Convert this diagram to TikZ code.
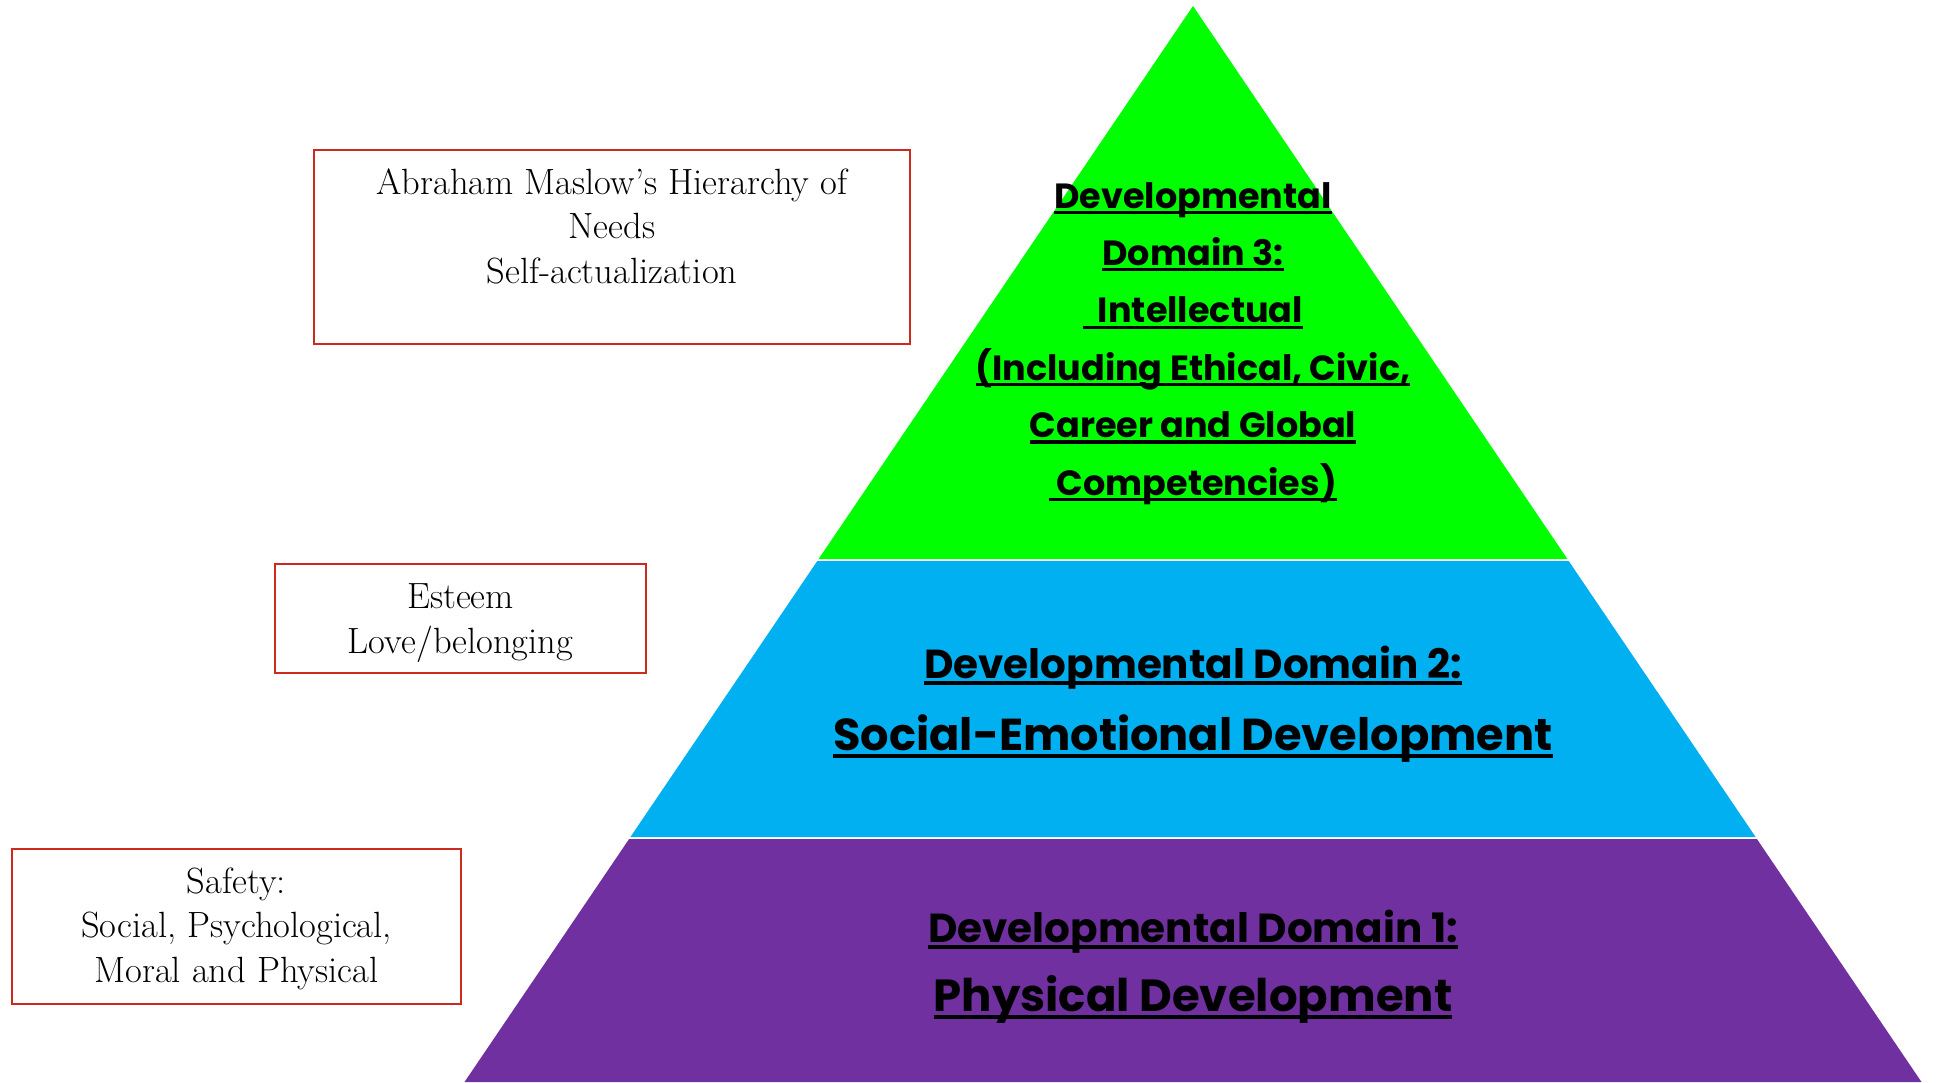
\documentclass[tikz,border=0pt]{standalone}
\usepackage{fontspec}
\newfontfamily\gothic{Poppins}[BoldFont={* Bold}]
\newsavebox\ulbox
\newcommand\ulx[1]{\sbox\ulbox{#1}\rlap{\rule[-0.17em]{\wd\ulbox}{0.09em}}\usebox\ulbox}
\definecolor{pgreen}{HTML}{00FF00}
\definecolor{pblue}{HTML}{00B0F0}
\definecolor{ppurple}{HTML}{7030A0}
\definecolor{boxred}{HTML}{CC2A1E}
\tikzset{
  mbox/.style={draw=boxred, line width=2pt, inner sep=0pt},
  mtext/.style={align=center, anchor=base, inner sep=0pt, font=\fontsize{36.5}{44.5}\selectfont},
  dtext/.style={align=center, anchor=base, inner sep=0pt, text=black},
}
\begin{document}
\begin{tikzpicture}[x=1pt,y=-1pt]
\useasboundingbox (0,0) rectangle (1939,1082);
% pyramid bands
\fill[pgreen] (1193,6) -- (1567.4,559) -- (818.6,559) -- cycle;
\fill[pblue] (817.3,561) -- (1568.7,561) -- (1755.6,837) -- (630.4,837) -- cycle;
\fill[ppurple] (629.1,839) -- (1756.9,839) -- (1921.5,1082) -- (464.5,1082) -- cycle;
% domain texts (base anchor = baseline of last line)
\node[dtext, font=\gothic\bfseries\fontsize{35}{57.4}\selectfont] (d3) at (1193,495)
  {\ulx{Developmental}\\ \ulx{Domain 3:}\\ \ulx{\ \ Intellectual}\\ \ulx{(Including Ethical, Civic,}\\ \ulx{Career and Global}\\ \ulx{\ Competencies)}};
\node[dtext, font=\gothic\bfseries\fontsize{40.5}{50}\selectfont] (d2a) at (1193,678) {\ulx{Developmental Domain 2:}};
\node[dtext, font=\gothic\bfseries\fontsize{44.7}{56}\selectfont] (d2b) at (1193,750) {\ulx{Social-Emotional Development}};
\node[dtext, font=\gothic\bfseries\fontsize{40.5}{50}\selectfont] (d1a) at (1193,942) {\ulx{Developmental Domain 1:}};
\node[dtext, font=\gothic\bfseries\fontsize{45}{56}\selectfont] (d1b) at (1193,1011) {\ulx{Physical Development}};
% Maslow boxes
\node[mbox, minimum width=596pt, minimum height=194pt] (box1) at (612,247) {};
\node[mtext] (t1) at (box1.center |- 0,283) {Abraham Maslow’s Hierarchy of\\Needs\\Self-actualization};
\node[mbox, minimum width=371pt, minimum height=109pt] (box2) at (460.5,618.5) {};
\node[mtext] (t2) at (box2.center |- 0,653) {Esteem\\Love/belonging};
\node[mbox, minimum width=449pt, minimum height=155pt] (box3) at (236.5,926.5) {};
\node[mtext] (t3) at (box3.center |- 0,982) {Safety:\\Social, Psychological,\\Moral and Physical};
\end{tikzpicture}
\end{document}
